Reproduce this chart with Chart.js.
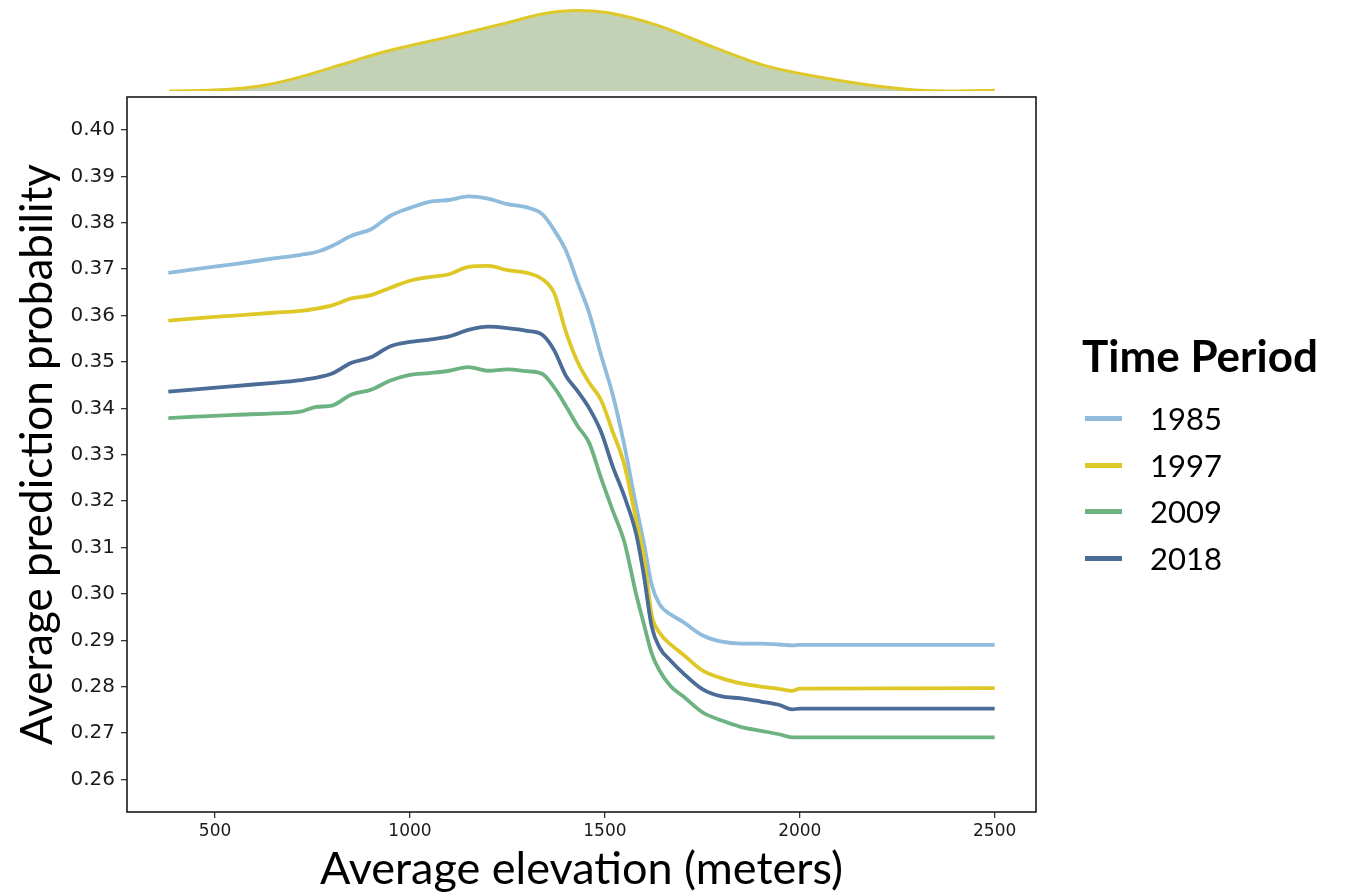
<!DOCTYPE html>
<html>
<head>
<meta charset="utf-8">
<script src="https://cdn.jsdelivr.net/npm/chart.js@4.4.1/dist/chart.umd.min.js"></script>
<style>
  html, body { margin: 0; padding: 0; background: #fff; }
  #wrap { position: relative; width: 1353px; height: 896px; overflow: hidden; font-family: Lato, sans-serif; color: #000; }
  #mainChart { position: absolute; left: 0; top: 0; }
  #densityChart { position: absolute; left: 127px; top: 0; }
  #legend { position: absolute; left: 1082px; top: 0; }
  .lg-title { position: absolute; left: 0; top: 329px; font-size: 44px; font-weight: 700; line-height: 52px; white-space: nowrap; }
  .lg-item { position: absolute; left: 3px; height: 40px; line-height: 40px; font-size: 31px; white-space: nowrap; }
  .lg-swatch { position: absolute; left: 0; top: 18px; width: 37px; height: 5px; }
  .lg-text { position: absolute; left: 65px; top: 0; }
</style>
</head>
<body>
<div id="wrap">
  <canvas id="densityChart" width="909" height="97"></canvas>
  <canvas id="mainChart" width="1353" height="896"></canvas>
  <div id="legend"></div>
</div>
<script>
// Partial dependence of prediction probability on elevation
const seriesNames = ['1985', '1997', '2009', '2018'];
const seriesColors = ['#8fbbdc', '#dec828', '#6cb381', '#4b6c96'];

const elevation = [380, 450, 550, 650, 720, 760, 800, 850, 900, 950, 1000, 1050, 1100, 1150, 1200,
  1250, 1300, 1340, 1370, 1400, 1430, 1460, 1490, 1520, 1550, 1580, 1600, 1620, 1640, 1670,
  1700, 1750, 1800, 1850, 1900, 1950, 1980, 2000, 2500];

const prob1985 = [0.3692, 0.3700, 0.3711, 0.3723, 0.3731, 0.3737, 0.3750, 0.3772, 0.3786, 0.3815, 0.3832, 0.3845, 0.3849, 0.3857, 0.3852,
  0.3840, 0.3833, 0.3818, 0.3784, 0.3740, 0.3672, 0.3605, 0.3515, 0.3430, 0.3320, 0.3190, 0.3110, 0.3020, 0.2978, 0.2955,
  0.2940, 0.2911, 0.2897, 0.2893, 0.2893, 0.2891, 0.2889, 0.2890, 0.2890];

const prob1997 = [0.3589, 0.3594, 0.3600, 0.3606, 0.3610, 0.3615, 0.3622, 0.3637, 0.3644, 0.3660, 0.3675, 0.3683, 0.3689, 0.3705, 0.3707,
  0.3698, 0.3692, 0.3678, 0.3648, 0.3565, 0.3500, 0.3455, 0.3418, 0.3350, 0.3278, 0.3160, 0.3080, 0.2955, 0.2917, 0.2890,
  0.2870, 0.2835, 0.2818, 0.2807, 0.2800, 0.2795, 0.2791, 0.2796, 0.2797];

const prob2009 = [0.3379, 0.3382, 0.3386, 0.3389, 0.3393, 0.3403, 0.3406, 0.3430, 0.3440, 0.3460, 0.3472, 0.3476, 0.3481, 0.3489, 0.3481,
  0.3484, 0.3480, 0.3474, 0.3445, 0.3405, 0.3362, 0.3325, 0.3250, 0.3180, 0.3112, 0.3000, 0.2935, 0.2872, 0.2835, 0.2800,
  0.2780, 0.2745, 0.2727, 0.2713, 0.2705, 0.2697, 0.2691, 0.2691, 0.2691];

const prob2018 = [0.3436, 0.3441, 0.3448, 0.3455, 0.3461, 0.3466, 0.3475, 0.3498, 0.3510, 0.3534, 0.3543, 0.3548, 0.3555, 0.3569, 0.3576,
  0.3573, 0.3567, 0.3558, 0.3525, 0.3470, 0.3437, 0.3400, 0.3350, 0.3275, 0.3210, 0.3130, 0.3040, 0.2930, 0.2885, 0.2855,
  0.2830, 0.2795, 0.2779, 0.2775, 0.2768, 0.2760, 0.2751, 0.2753, 0.2753];

// elevation density (x 1e-3) shown above the panel
const densityElevation = [382, 527, 615, 705, 838, 927, 1105, 1239, 1349, 1428, 1505, 1639, 1772, 1906, 2039, 2172, 2306, 2396, 2500];
const densityValues = [0.00, 0.02, 0.07, 0.18, 0.40, 0.55, 0.78, 0.96, 1.11, 1.15, 1.12, 0.93, 0.64, 0.37, 0.21, 0.09, 0.01, 0.00, 0.01];

const xTickValues = [500, 1000, 1500, 2000, 2500];
const yTickValues = [0.26, 0.27, 0.28, 0.29, 0.30, 0.31, 0.32, 0.33, 0.34, 0.35, 0.36, 0.37, 0.38, 0.39, 0.40];

const xMin = 274, xMax = 2606;
const yMin = 0.2530, yMax = 0.4071;
const TICK_FONT = '"DejaVu Sans", sans-serif';
const TITLE_FONT = 'Lato, sans-serif';

const allSeries = [prob1985, prob1997, prob2009, prob2018];

const framePlugin = {
    id: 'frame',
    afterDraw(chart) {
        const a = chart.chartArea;
        const ctx = chart.ctx;
        ctx.save();
        ctx.strokeStyle = '#1a1a1a';
        ctx.lineWidth = 1.6;
        ctx.strokeRect(a.left, a.top, a.right - a.left, a.bottom - a.top);
        ctx.restore();
    }
};

new Chart(document.getElementById('mainChart'), {
    type: 'line',
    data: {
        datasets: allSeries.map((vals, i) => ({
            label: seriesNames[i],
            data: elevation.map((x, j) => ({ x: x, y: vals[j] })),
            borderColor: seriesColors[i],
            backgroundColor: seriesColors[i],
            borderWidth: 3.8,
            pointRadius: 0,
            cubicInterpolationMode: 'monotone',
            fill: false,
            order: seriesNames.length - i
        }))
    },
    options: {
        responsive: false,
        animation: false,
        layout: { padding: { top: 97, right: 317, left: 0, bottom: 0 } },
        plugins: { legend: { display: false }, tooltip: { enabled: false } },
        scales: {
            x: {
                type: 'linear',
                min: xMin,
                max: xMax,
                afterFit(scale) { scale.height = 84; },
                afterBuildTicks(scale) { scale.ticks = xTickValues.map(v => ({ value: v })); },
                ticks: {
                    callback: v => String(v),
                    autoSkip: false,
                    maxRotation: 0,
                    padding: 3,
                    color: '#1a1a1a',
                    font: { family: TICK_FONT, size: 17 }
                },
                grid: { drawOnChartArea: false, drawTicks: true, tickLength: 6, color: '#333', lineWidth: 1.3 },
                border: { display: false },
                title: {
                    display: true,
                    text: 'Average elevation (meters)',
                    color: '#000',
                    font: { family: TITLE_FONT, size: 45 },
                    padding: { top: 0, bottom: 0 }
                }
            },
            y: {
                type: 'linear',
                min: yMin,
                max: yMax,
                afterFit(scale) { scale.width = 127; },
                afterBuildTicks(scale) { scale.ticks = yTickValues.map(v => ({ value: v })); },
                ticks: {
                    callback: v => v.toFixed(2),
                    autoSkip: false,
                    padding: 6,
                    color: '#1a1a1a',
                    font: { family: TICK_FONT, size: 20 }
                },
                grid: { drawOnChartArea: false, drawTicks: true, tickLength: 6, color: '#333', lineWidth: 1.3 },
                border: { display: false },
                title: {
                    display: true,
                    text: 'Average prediction probability',
                    color: '#000',
                    font: { family: TITLE_FONT, size: 44 },
                    padding: { top: 11, bottom: 0 }
                }
            }
        }
    },
    plugins: [framePlugin]
});

new Chart(document.getElementById('densityChart'), {
    type: 'line',
    data: {
        datasets: [{
            data: densityElevation.map((x, j) => ({ x: x, y: densityValues[j] })),
            borderColor: '#dfc92a',
            backgroundColor: '#c3d2b4',
            borderWidth: 3,
            pointRadius: 0,
            cubicInterpolationMode: 'monotone',
            fill: 'origin'
        }]
    },
    options: {
        responsive: false,
        animation: false,
        layout: { padding: { top: 7, bottom: 6, left: 0, right: 0 } },
        plugins: { legend: { display: false }, tooltip: { enabled: false } },
        scales: {
            x: { type: 'linear', min: xMin, max: xMax, display: false },
            y: { min: 0, max: 1.2, display: false }
        }
    }
});

// legend
const legend = document.getElementById('legend');
const title = document.createElement('div');
title.className = 'lg-title';
title.textContent = 'Time Period';
legend.appendChild(title);
seriesNames.forEach((name, i) => {
    const item = document.createElement('div');
    item.className = 'lg-item';
    item.style.top = (398 + i * 46.7) + 'px';
    const sw = document.createElement('div');
    sw.className = 'lg-swatch';
    sw.style.background = seriesColors[i];
    const tx = document.createElement('span');
    tx.className = 'lg-text';
    tx.textContent = name;
    item.appendChild(sw);
    item.appendChild(tx);
    legend.appendChild(item);
});
</script>
</body>
</html>
